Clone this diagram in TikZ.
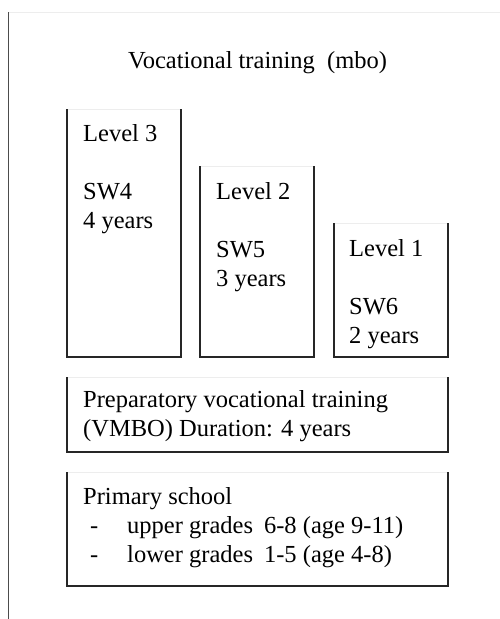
\documentclass[tikz,border=0pt]{standalone}
\usepackage{fontspec}
\setmainfont{Liberation Serif}
\tikzset{
  panel/.style={anchor=north west,inner sep=0pt,outer sep=0pt},
  edge/.style={draw=black!85,line width=1.1pt},
  topedge/.style={draw=black!7,line width=0.8pt},
  lbl/.style={anchor=base west,align=left,inner sep=0pt,font=\fontsize{24.5}{29}\selectfont}
}
\begin{document}
\begin{tikzpicture}[x=1pt,y=-1pt]
			\useasboundingbox (0,0) rectangle (500,619);
			% page frame
			\draw [topedge] (8.5,12) -- (500,12);
			\draw [black!70,line width=1.2pt] (8.5,12) -- (8.5,619);

			\node (title) [lbl] at (128,68) {Vocational training\hspace{0.25em} (mbo)};

			% boxes
			\node[panel,minimum width=114pt,minimum height=248pt] (lvl3) at (67,109) {};
			\node[panel,minimum width=114pt,minimum height=191pt] (lvl2) at (200,166) {};
			\node[panel,minimum width=114pt,minimum height=134pt] (lvl1) at (334,223) {};
			\node[panel,minimum width=381pt,minimum height=75pt] (vmbo) at (67,377) {};
			\node[panel,minimum width=381pt,minimum height=114pt] (prim) at (67,472) {};
			\foreach \b in {lvl3,lvl2,lvl1,vmbo,prim} {
				\draw [topedge] (\b.north west) -- (\b.north east);
				\draw [edge] (\b.north west) -- (\b.south west) -- (\b.south east) -- (\b.north east);
			}

			% texts (base = last line)
			\node (lvl3txt) [lbl] at (83,228) {Level 3\\[29pt]SW4\\4 years};
			\node (lvl2txt) [lbl] at (216,286) {Level 2\\[29pt]SW5\\3 years};
			\node (lvl1txt) [lbl] at (349,343) {Level 1\\[29pt]SW6\\2 years};
			\node (vmbotxt) [lbl] at (83,436) {Preparatory vocational training\\(VMBO) Duration: 4 years};
			\node (primtxt) [lbl] at (83,562) {Primary school\\
				\makebox[44pt][l]{\hspace{7pt}-}upper grades\hspace{0.2em} 6-8 (age 9-11)\\
				\makebox[44pt][l]{\hspace{7pt}-}lower grades\hspace{0.2em} 1-5 (age 4-8)};
		\end{tikzpicture}
\end{document}
